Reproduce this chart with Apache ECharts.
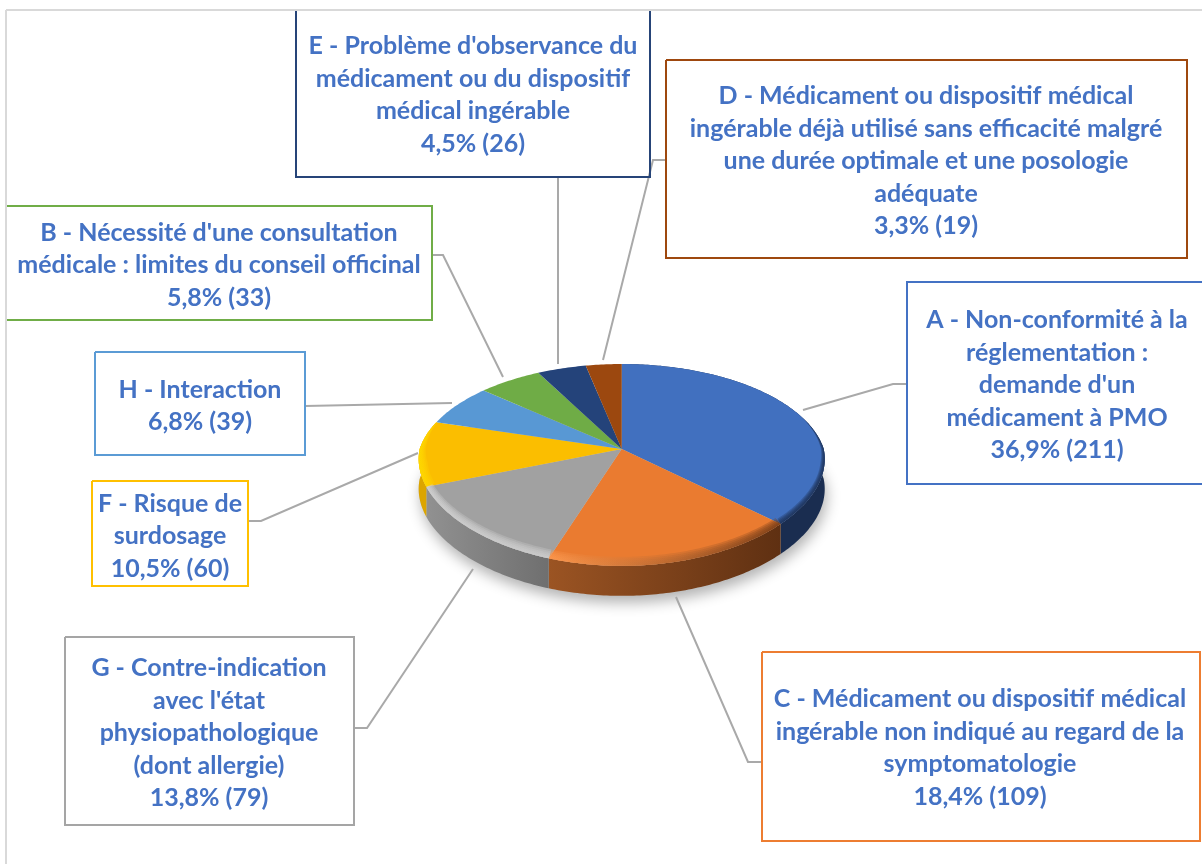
<!DOCTYPE html>
<html><head><meta charset="utf-8">
<style>html,body{margin:0;padding:0;background:#fff}#c{width:1202px;height:864px}</style>
<script src="https://cdn.jsdelivr.net/npm/echarts@6/dist/echarts.min.js"></script>
</head><body><div id="c"></div>
<script>
// Data, clockwise from 12 o'clock
const categories = [
  "A - Non-conformité à la\nréglementation :\ndemande d'un\nmédicament à PMO",
  "C - Médicament ou dispositif médical\ningérable non indiqué au regard de la\nsymptomatologie",
  "G - Contre-indication\navec l'état\nphysiopathologique\n(dont allergie)",
  "F - Risque de\nsurdosage",
  "H - Interaction",
  "B - Nécessité d'une consultation\nmédicale : limites du conseil officinal",
  "E - Problème d'observance du\nmédicament ou du dispositif\nmédical ingérable",
  "D - Médicament ou dispositif médical\ningérable déjà utilisé sans efficacité malgré\nune durée optimale et une posologie\nadéquate"
];
const percents = [36.9, 18.4, 13.8, 10.5, 6.8, 5.8, 4.5, 3.3];
const counts = [211, 109, 79, 60, 39, 33, 26, 19];

// Styles
const topColors = ['#4170BF','#EA7B30','#A1A1A1','#FBBE00','#5898D4','#6FAC46','#24437A','#9C480F'];
const borderColors = ['#4472C4','#ED7D31','#A5A5A5','#FFC000','#5B9BD5','#70AD47','#264478','#9E480E'];
const wallStops = [
  ['#1A2D50','#1A2D50'], ['#9B5423','#5F3012'], ['#919191','#6F6F6F'], ['#DCA500','#DCA500'],
  null, null, null, null
];
const rimStops = [
  ['#1A2D50','#1A2D50'], ['#FF9A50','#6E3714'], ['#D4D4D4','#CFCFCF'], ['#FFDC00','#FFD000'],
  null, null, null, null
];
const rimInset = [0.02, 0.03, 0.032, 0.042, 0, 0, 0, 0];

// Layout: projection of the pie, and callouts
const pie = {cx: 621.7, cy: 449, k: 202, m: 98.4, pxFront: 0.1, pxBack: 0.158, py: 0.158, depth: 30};
const boxPaths = [
  [[1204,282],[907,282],[907,484],[1204,484]],
  [[762,652],[1200,652],[1200,841],[762,841],[762,652]],
  [[65,637],[354,637],[354,825],[65,825],[65,637]],
  [[92,481],[248,481],[248,586],[92,586],[92,481]],
  [[95,352],[305,352],[305,455],[95,455],[95,352]],
  [[7,206],[432,206],[432,320],[7,320]],
  [[296,11],[296,177],[650,177],[650,11]],
  [[666,60],[1187,60],[1187,258],[666,258],[666,60]]
];
const textCenters = [[1057,385],[980,748],[209,733],[170,536],[200,406],[219,265],[473,95],[926,161]];
const leaderPaths = [
  [[907,384],[893,384],[803,410]],
  [[762,762],[748,762],[676,597]],
  [[354,728],[367,728],[473,569]],
  [[248,521],[261,521],[418,453]],
  [[305,406],[452,403]],
  [[432,255],[443,255],[503,377]],
  [[558,177],[558,364]],
  [[666,160],[653,160],[603,360]]
];

function project(theta, r, dy) {
  const u = r * Math.sin(theta), v = -r * Math.cos(theta);
  const px = v < 0 ? pie.pxBack : pie.pxFront;
  return [pie.cx + pie.k * u / (1 - px * v), pie.cy + pie.m * v / (1 - pie.py * v) + dy];
}
function arc(a0, a1, r, dyFn) {
  const n = Math.max(4, Math.ceil((a1 - a0) / 0.015)), pts = [];
  for (let i = 0; i <= n; i++) {
    const t = a0 + (a1 - a0) * i / n;
    pts.push(project(t, r, dyFn ? dyFn(t) : 0));
  }
  return pts;
}
function hGrad(stops) {
  return new echarts.graphic.LinearGradient(0, 0, 1, 0, [{offset: 0, color: stops[0]}, {offset: 1, color: stops[1]}]);
}
function frac(dataIndex, api) {
  let s = 0;
  for (let i = 0; i < dataIndex; i++) s += percents[i];
  const tot = percents.reduce((a, b) => a + b, 0);
  const val = api.value(0);
  return [s / tot * 2 * Math.PI, (s + val) / tot * 2 * Math.PI];
}
function renderItem(params, api) {
  const i = params.dataIndex, [a0, a1] = frac(i, api), children = [];
  if (i === 0) {
    children.push({type: 'polygon', z2: 0,
      shape: {points: arc(0, 2 * Math.PI, 1, () => pie.depth)},
      style: {fill: '#C8C8C8', shadowBlur: 14, shadowColor: 'rgba(0,0,0,0.3)', shadowOffsetY: 7, shadowOffsetX: 2}});
  }
  // wall
  if (wallStops[i]) {
    const top = arc(a0, a1, 1), bot = arc(a0, a1, 1, () => pie.depth).reverse();
    children.push({type: 'polygon', z2: 1, shape: {points: top.concat(bot)},
      style: {fill: hGrad(wallStops[i])}});
  }
  // top face
  children.push({type: 'polygon', z2: 2,
    shape: {points: [[pie.cx, pie.cy]].concat(arc(a0, a1, 1))},
    style: {fill: topColors[i]}});
  // bevel along the front edge
  if (rimStops[i]) {
    const layers = 5;
    for (let j = 1; j <= layers; j++) {
      const f = j / layers;
      const taper = t => Math.max(0, Math.min(1, (-Math.cos(t) + 0.35) / 0.5));
      const n = Math.ceil((a1 - a0) / 0.015), inner = [];
      for (let q = 0; q <= n; q++) {
        const t = a0 + (a1 - a0) * q / n, tp = taper(t);
        inner.push(project(t, 1 - rimInset[i] * f * tp, -5 * f * tp * Math.max(0, -Math.cos(t))));
      }
      children.push({type: 'polygon', z2: 3,
        shape: {points: arc(a0, a1, 1).concat(inner.reverse())},
        style: {fill: hGrad(rimStops[i]), opacity: 0.3}});
    }
  }
  // leader
  children.push({type: 'polyline', z2: 4, shape: {points: leaderPaths[i]},
    style: {stroke: '#A9A9A9', lineWidth: 2, fill: 'none'}});
  // box
  children.push({type: 'polyline', z2: 5, shape: {points: boxPaths[i]},
    style: {stroke: borderColors[i], lineWidth: 2, fill: 'none'}});
  // text
  const pct = percents[i].toFixed(1).replace('.', ',');
  children.push({type: 'text', z2: 6,
    style: {
      text: categories[i] + '\n' + pct + '% (' + counts[i] + ')',
      x: textCenters[i][0], y: textCenters[i][1],
      align: 'center', verticalAlign: 'middle',
      fontFamily: 'Lato', fontWeight: 'bold', fontSize: 25, lineHeight: 32.5, fill: '#4472C4'
    }});
  return {type: 'group', children};
}

const chart = echarts.init(document.getElementById('c'), null, {renderer: 'canvas'});
chart.setOption({
  animation: false,
  backgroundColor: '#fff',
  graphic: [
    {type: 'line', z: -1, shape: {x1: 6, y1: 10, x2: 1202, y2: 10}, style: {stroke: '#D9D9D9', lineWidth: 2}},
    {type: 'line', z: -1, shape: {x1: 6, y1: 10, x2: 6, y2: 864}, style: {stroke: '#D9D9D9', lineWidth: 2}}
  ],
  series: [{
    type: 'custom',
    coordinateSystem: 'none',
    renderItem,
    clip: false,
    data: percents.map(v => [v]),
    encode: {value: 0}
  }]
});
</script></body></html>
